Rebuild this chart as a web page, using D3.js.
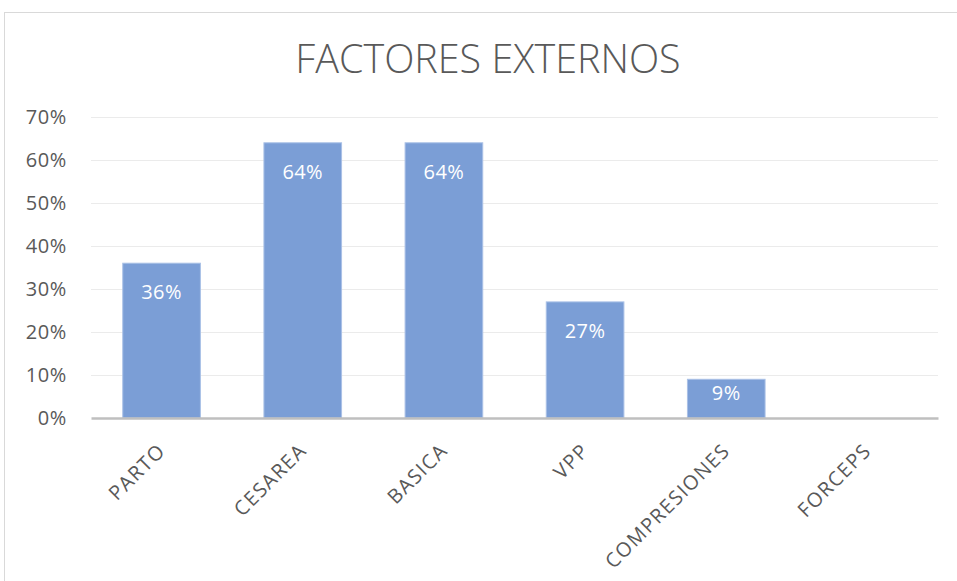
<!DOCTYPE html>
<html>
<head>
<meta charset="utf-8">
<script src="https://cdn.jsdelivr.net/npm/d3@7"></script>
<style>
  body { margin: 0; background: #fff; }
  svg { display: block; font-family: "Open Sans", sans-serif; }
</style>
</head>
<body>
<svg id="chart" width="957" height="581"></svg>
<script>
// chart data
const categories = ['PARTO', 'CESAREA', 'BASICA', 'VPP', 'COMPRESIONES', 'FORCEPS']
const values = [0.36, 0.64, 0.64, 0.27, 0.09, 0]
const yTicks = [0, 0.1, 0.2, 0.3, 0.4, 0.5, 0.6, 0.7]
const title = 'FACTORES EXTERNOS'

const svg = d3.select('#chart')
const margin = { left: 91, right: 19, top: 117, bottom: 163 }
const width = 957 - margin.left - margin.right
const height = 581 - margin.top - margin.bottom
const pct = d3.format('.0%')

// outer chart frame
svg.append('rect')
	.attr('x', 4.5).attr('y', 12.5)
	.attr('width', 960).attr('height', 600)
	.attr('fill', '#fff')
	.attr('stroke', '#d9d9d9')

svg.append('text')
	.attr('x', 488).attr('y', 73)
	.attr('text-anchor', 'middle')
	.attr('fill', '#595959')
	.attr('font-size', 39.5)
	.attr('font-weight', 300)
	.text(title)

const g = svg.append('g').attr('transform', `translate(${margin.left},${margin.top})`)

const x = d3.scaleBand().domain(categories).range([0, width]).paddingInner(0.45).paddingOuter(0.225)
const y = d3.scaleLinear().domain([0, 0.7]).range([height, 0])

// gridlines
g.selectAll('.grid')
	.data(yTicks.slice(1))
	.enter().append('line')
	.attr('class', 'grid')
	.attr('x1', 0).attr('x2', width)
	.attr('y1', d => Math.round(y(d)) + 0.5).attr('y2', d => Math.round(y(d)) + 0.5)
	.attr('stroke', '#ebebeb')

// y axis labels
const yAxis = g.append('g').call(d3.axisLeft(y).tickValues(yTicks).tickFormat(pct).tickSize(0).tickPadding(24))
yAxis.select('.domain').remove()
yAxis.selectAll('text')
	.attr('fill', '#595959')
	.attr('font-size', 20)
	.attr('letter-spacing', 0.6)
	.attr('dy', '0.34em')
	.attr('font-family', '"Open Sans", sans-serif')

// bars
g.selectAll('.bar')
	.data(categories)
	.enter().append('rect')
	.attr('class', 'bar')
	.attr('x', d => x(d))
	.attr('width', x.bandwidth())
	.attr('y', (d, i) => y(values[i]))
	.attr('height', (d, i) => height - y(values[i]))
	.attr('fill', '#7b9ed6')
	.attr('stroke', '#a9c0e6')
	.attr('stroke-width', 1)

// value labels inside bars (kept inside short bars)
g.selectAll('.val')
	.data(categories.filter((d, i) => values[i] > 0))
	.enter().append('text')
	.attr('class', 'val')
	.attr('x', d => x(d) + x.bandwidth() / 2)
	.attr('y', d => Math.min(y(values[categories.indexOf(d)]) + 36, height - 18))
	.attr('text-anchor', 'middle')
	.attr('fill', '#fff')
	.attr('font-size', 20)
	.attr('letter-spacing', 0.4)
	.text(d => pct(values[categories.indexOf(d)]))

// x axis
const xAxis = g.append('g')
	.attr('transform', `translate(0,${height})`)
	.call(d3.axisBottom(x).tickSize(0).tickPadding(0))
xAxis.select('.domain')
	.attr('stroke', '#bfbfbf')
	.attr('stroke-width', 2.5)
xAxis.selectAll('text')
	.attr('fill', '#595959')
	.attr('font-size', 20)
	.attr('letter-spacing', 1.3)
	.attr('font-family', '"Open Sans", sans-serif')
	.attr('text-anchor', 'end')
	.attr('y', 0)
	.attr('dy', null)
	.attr('transform', 'translate(5,34) rotate(-45)')
</script>
</body>
</html>
